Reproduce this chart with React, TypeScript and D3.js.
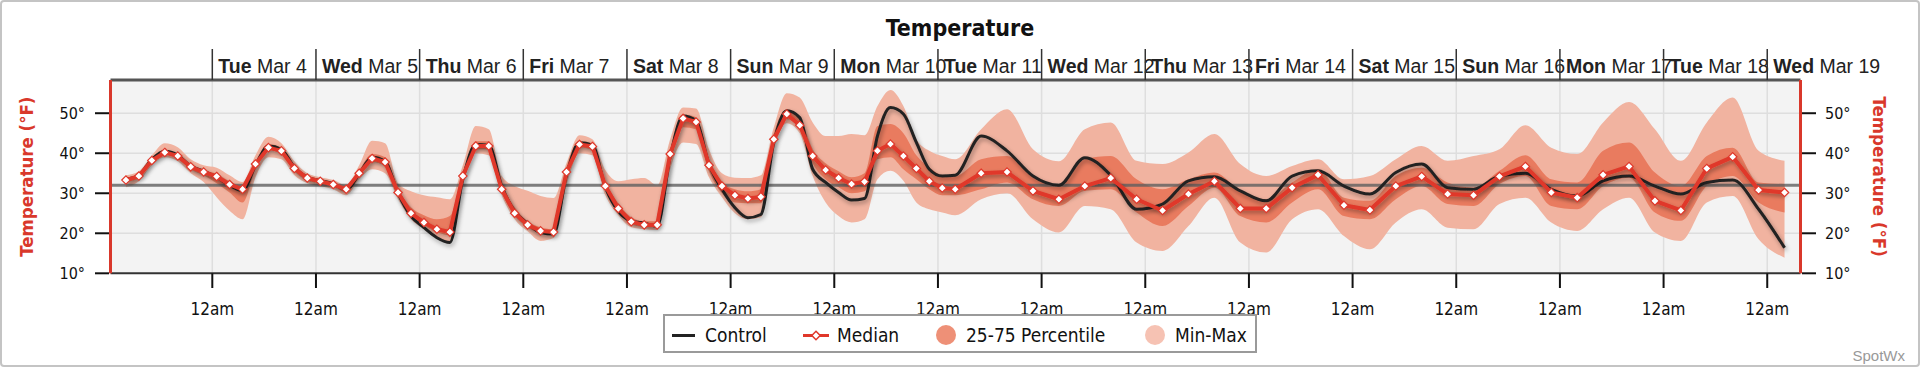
import * as d3 from "d3";

// forecast hours, counted from Mar 4 00:00
const HOURS = [
  -20, -17, -14, -11, -8, -5, -2, 1, 4, 7, 10, 13, 16, 19, 22, 25, 28, 31, 34, 37, 40,
  43, 46, 49, 52, 55, 58, 61, 64, 67, 70, 73, 76, 79, 82, 85, 88, 91, 94, 97, 100, 103,
  106, 109, 112, 115, 118, 121, 124, 127, 130, 133, 136, 139, 142, 145, 148, 151, 154,
  157, 160, 163, 166, 169, 172, 178, 184, 190, 196, 202, 208, 214, 220, 226, 232, 238,
  244, 250, 256, 262, 268, 274, 280, 286, 292, 298, 304, 310, 316, 322, 328, 334, 340,
  346, 352, 358, 364,
];

const MEDIAN = [
  33.3, 34.3, 38.2, 40.2, 39.3, 36.6, 35.3, 34.2, 32.2, 31.0, 37.3, 41.4, 40.6, 36.2, 33.8, 33.0, 32.2, 31.0, 35.0, 38.7, 37.8,
  30.2, 25.0, 22.7, 21.0, 20.3, 34.3, 41.8, 41.8, 31.0, 25.0, 22.1, 20.6, 20.3, 35.3, 42.2, 41.7, 31.8, 26.2, 22.9, 22.1, 22.1,
  39.8, 48.7, 47.8, 37.0, 31.8, 29.5, 28.7, 29.1, 43.5, 49.8, 47.0, 39.3, 35.8, 33.8, 32.3, 32.9, 40.6,
  42.3, 39.3, 36.2, 33.0, 31.3, 31.0, 35.0, 35.3, 30.6, 28.5, 31.8, 33.8, 28.5, 25.7, 29.8, 33.0, 26.2,
  26.2, 31.4, 34.6, 27.0, 25.8, 31.8, 34.2, 29.8, 29.5, 34.2, 36.7, 30.2, 28.9, 34.6, 36.7, 28.1, 25.7,
  36.2, 39.1, 30.8, 30.2,
];

const CONTROL = [
  33.5, 34.5, 38.5, 40.5, 39.5, 36.8, 35.5, 34.0, 32.0, 30.6, 37.0, 41.8, 41.0, 36.5, 34.0, 33.2, 32.4, 30.8, 34.8, 39.0, 38.0,
  30.0, 24.3, 21.4, 18.9, 17.7, 33.5, 42.2, 42.0, 31.8, 25.5, 22.5, 20.2, 19.8, 34.5, 42.6, 42.0, 31.5, 25.5, 23.1, 22.5, 21.8,
  39.0, 49.3, 48.1, 37.2, 31.0, 26.4, 23.9, 24.7, 42.7, 50.6, 48.9, 36.0, 32.7, 30.2, 28.3, 28.7, 44.3,
  51.4, 49.8, 42.7, 36.0, 34.3, 34.5, 44.3, 40.6, 34.3, 32.0, 38.9, 34.5, 26.0, 27.3, 33.1, 34.1, 30.6,
  28.1, 34.3, 35.6, 31.8, 29.8, 35.2, 37.3, 31.4, 31.0, 34.3, 35.0, 31.0, 29.3, 33.1, 34.3, 31.8, 29.8,
  32.7, 33.3, 26.0, 16.4,
];

const MIN = [
  31.5, 33.0, 37.0, 39.0, 38.0, 35.0, 32.8, 29.0, 25.6, 23.5, 34.0, 39.0, 38.5, 34.5, 32.5, 31.8, 31.0, 29.5, 33.5, 36.0, 35.0,
  28.5, 23.5, 21.0, 18.7, 17.5, 32.0, 40.0, 39.5, 29.5, 23.5, 20.5, 18.1, 18.8, 32.0, 40.0, 39.5, 29.5, 24.5, 21.5, 21.0, 20.8,
  36.0, 42.7, 42.3, 34.0, 29.0, 25.0, 23.5, 24.0, 41.0, 47.5, 45.0, 34.3, 27.7, 24.3, 22.7, 23.5, 33.5,
  35.6, 33.1, 27.7, 26.0, 25.2, 24.5, 28.5, 30.0, 23.5, 20.2, 26.8, 26.0, 17.7, 15.6, 21.8, 28.9, 17.7,
  15.2, 23.5, 26.0, 19.3, 16.0, 22.7, 26.0, 21.4, 21.0, 27.3, 28.9, 22.7, 20.6, 26.0, 28.9, 20.2, 18.1,
  27.7, 29.3, 18.5, 13.9,
];

const P25 = [
  32.8, 33.8, 37.7, 39.7, 38.7, 36.0, 34.5, 32.5, 30.2, 27.7, 36.0, 40.8, 39.8, 35.5, 33.2, 32.5, 31.6, 30.3, 34.3, 37.8, 36.8,
  29.5, 24.5, 22.0, 20.3, 19.5, 33.5, 41.0, 41.0, 30.3, 24.5, 21.5, 20.0, 19.6, 34.0, 41.5, 40.8, 31.0, 25.5, 22.3, 21.6, 21.5,
  38.5, 46.5, 46.0, 35.5, 30.0, 27.7, 27.5, 27.5, 42.5, 48.5, 46.5, 37.5, 33.5, 31.5, 30.0, 30.5, 38.5,
  39.0, 36.0, 33.5, 31.0, 29.5, 29.5, 31.0, 32.7, 28.5, 26.8, 30.6, 31.0, 25.2, 21.8, 26.8, 31.4, 24.3,
  22.7, 27.7, 31.0, 24.3, 23.5, 28.5, 31.8, 27.3, 26.8, 32.3, 34.3, 26.8, 26.0, 31.8, 33.9, 25.2, 23.1,
  31.8, 34.3, 27.7, 25.2,
];

const P75 = [
  33.8, 34.8, 38.7, 40.8, 39.8, 37.2, 35.8, 34.8, 33.0, 31.8, 38.0, 42.3, 41.3, 37.0, 34.4, 33.5, 32.8, 31.5, 35.8, 39.8, 39.0,
  31.0, 26.5, 24.5, 23.5, 24.3, 35.0, 43.0, 43.0, 32.3, 26.5, 23.0, 21.5, 21.0, 36.5, 43.0, 42.5, 32.8, 27.5, 24.0, 23.0, 23.0,
  40.8, 49.7, 49.0, 38.5, 33.0, 31.0, 30.5, 31.0, 45.0, 51.0, 48.9, 41.0, 37.5, 35.5, 34.0, 35.0, 46.8,
  47.3, 45.0, 39.5, 36.5, 34.5, 34.3, 38.5, 39.3, 34.3, 31.8, 38.5, 39.3, 33.5, 31.0, 33.5, 35.2, 30.6,
  28.5, 32.7, 36.0, 28.9, 28.1, 34.3, 36.4, 32.7, 31.4, 35.6, 39.5, 33.5, 32.7, 40.6, 42.7, 35.2, 31.8,
  39.3, 41.4, 32.7, 32.3,
];

const MAX = [
  34.5, 35.5, 39.5, 42.5, 41.5, 38.5, 37.0, 36.4, 34.5, 32.8, 39.5, 44.1, 42.5, 38.0, 35.0, 34.0, 33.3, 32.0, 37.0, 43.1, 42.5,
  32.5, 30.5, 29.5, 29.0, 28.5, 37.0, 46.8, 46.0, 34.3, 31.8, 30.6, 29.3, 28.8, 37.5, 44.5, 43.5, 35.8, 33.0, 33.5, 33.8, 32.0,
  43.5, 51.4, 51.2, 41.0, 35.0, 33.9, 33.8, 34.5, 46.5, 55.0, 53.9, 47.7, 44.3, 44.3, 44.8, 44.5, 51.8,
  55.8, 51.8, 43.5, 40.6, 39.3, 38.5, 46.0, 51.0, 41.0, 38.0, 46.0, 47.7, 38.1, 37.3, 40.2, 44.8, 37.3,
  34.3, 36.8, 38.5, 33.5, 34.3, 38.5, 41.8, 38.1, 39.3, 41.0, 47.0, 41.4, 39.8, 47.7, 52.8, 46.0, 38.1,
  47.7, 53.9, 40.6, 38.1,
];

const Y_TICKS = [10, 20, 30, 40, 50];
const FREEZING = 32;
const START = Date.UTC(2025, 2, 4);
const HOUR = 3600e3;

const W = 1920;
const H = 368;
const PL = 110.5;
const PR = 1800.5;
const PT = 80;
const PB = 273.3;

const RED = "#e0372a";
const AXIS_RED = "#d9382b";
const COND = "'DejaVu Sans Condensed', 'DejaVu Sans', sans-serif";
const ARIAL = "'Liberation Sans', Arial, sans-serif";

const App = () => {
  const times = HOURS.map((h) => new Date(START + h * HOUR));
  const x = d3
    .scaleUtc()
    .domain([new Date(START - 23.57 * HOUR), new Date(START + 367.7 * HOUR)])
    .range([PL, PR]);
  const y = d3.scaleLinear().domain([10, 58.3]).range([PB, PT]);

  const days = d3.utcDay.range(x.domain()[0], x.domain()[1]);
  const idx = d3.range(HOURS.length);

  const band = (lo: number[], hi: number[]) =>
    d3
      .area<number>()
      .x((i) => x(times[i]))
      .y0((i) => y(lo[i]))
      .y1((i) => y(hi[i]))
      .curve(d3.curveMonotoneX)(idx) || "";

  const controlLine =
    d3
      .line<number>()
      .x((i) => x(times[i]))
      .y((i) => y(CONTROL[i]))
      .curve(d3.curveMonotoneX)(idx) || "";

  const medianLine =
    d3
      .line<number>()
      .x((i) => x(times[i]))
      .y((i) => y(MEDIAN[i]))(idx) || "";

  const diamond = "M0,-4.2L4.2,0L0,4.2L-4.2,0Z";
  const fmtDay = d3.utcFormat("%a");
  const fmtDate = d3.utcFormat(" %b %-d");

  return (
    <div style={{ position: "absolute", left: 0, top: 0 }}>
      <svg width={W} height={H} style={{ display: "block", background: "#fff" }}>
        <defs>
          <clipPath id="plot">
            <rect x={PL} y={PT} width={PR - PL} height={PB - PT} />
          </clipPath>
          <filter id="shadow" x="-5%" y="-20%" width="110%" height="140%">
            <feDropShadow dx="1.5" dy="2.5" stdDeviation="2" floodColor="#000" floodOpacity="0.35" />
          </filter>
        </defs>

        <rect x={1} y={1} width={W - 2} height={H - 3} rx={3} fill="#fff" stroke="#c4c4c4" strokeWidth={2} />

        <text x={960} y={36} textAnchor="middle" fontFamily={COND} fontWeight="bold" fontSize={23} fill="#111">
          Temperature
        </text>

        {/* plot background and grid */}
        <rect x={PL} y={PT} width={PR - PL} height={PB - PT} fill="#f3f3f3" />
        {Y_TICKS.slice(1).map((t) => (
          <line key={t} x1={PL} x2={PR} y1={y(t)} y2={y(t)} stroke="#dedede" strokeWidth={1.5} />
        ))}
        {days.map((d) => (
          <line key={+d} x1={x(d)} x2={x(d)} y1={PT} y2={PB} stroke="#dedede" strokeWidth={1.5} />
        ))}

        <g clipPath="url(#plot)">
          <path d={band(MIN, MAX)} fill="#f1b3a0" />
          <path d={band(P25, P75)} fill="#e97b5f" />
          <line x1={PL} x2={PR} y1={y(FREEZING)} y2={y(FREEZING)} stroke="rgba(95,95,95,0.8)" strokeWidth={3} />
          <path d={controlLine} fill="none" stroke="#222" strokeWidth={3} filter="url(#shadow)" />
          <path d={medianLine} fill="none" stroke={RED} strokeWidth={4} strokeLinejoin="round" filter="url(#shadow)" />
          {idx.map((i) => (
            <path
              key={i}
              d={diamond}
              transform={`translate(${x(times[i])},${y(MEDIAN[i])})`}
              fill="#fff"
              stroke={RED}
              strokeWidth={1.2}
            />
          ))}
        </g>

        {/* top day axis */}
        <line x1={PL} x2={PR} y1={PT} y2={PT} stroke="#555" strokeWidth={3} />
        {days.map((d) => (
          <g key={+d}>
            <line x1={x(d)} x2={x(d)} y1={49} y2={PT} stroke="#333" strokeWidth={1.5} />
            <text x={x(d) + 6} y={72.5} fontFamily={ARIAL} fontSize={19.5} fill="#222">
              <tspan fontWeight="bold">{fmtDay(d)}</tspan>
              <tspan>{fmtDate(d)}</tspan>
            </text>
          </g>
        ))}

        {/* bottom axis */}
        <line x1={PL} x2={PR} y1={PB} y2={PB} stroke="#333" strokeWidth={2} />
        {days.map((d) => (
          <g key={+d}>
            <line x1={x(d)} x2={x(d)} y1={PB} y2={288} stroke="#111" strokeWidth={2} />
            <text x={x(d)} y={315} textAnchor="middle" fontFamily={COND} fontSize={17} fill="#111">
              12am
            </text>
          </g>
        ))}

        {/* y axes */}
        <line x1={PL} x2={PL} y1={PT} y2={PB} stroke={AXIS_RED} strokeWidth={3} />
        <line x1={PR} x2={PR} y1={PT} y2={PB} stroke={AXIS_RED} strokeWidth={3} />
        {Y_TICKS.map((t) => (
          <g key={t}>
            <line x1={95} x2={PL - 1.5} y1={y(t)} y2={y(t)} stroke="#111" strokeWidth={2} />
            <text x={85} y={y(t) + 6} textAnchor="end" fontFamily={COND} fontSize={16} fill="#111">
              {t}°
            </text>
            <line x1={PR + 1.5} x2={1816} y1={y(t)} y2={y(t)} stroke="#111" strokeWidth={2} />
            <text x={1825} y={y(t) + 6} fontFamily={COND} fontSize={16} fill="#111">
              {t}°
            </text>
          </g>
        ))}
        <text
          transform={`translate(33,${(PT + PB) / 2}) rotate(-90)`}
          textAnchor="middle"
          fontFamily={COND}
          fontWeight="bold"
          fontSize={18.5}
          fill={AXIS_RED}
        >
          Temperature (°F)
        </text>
        <text
          transform={`translate(1873,${(PT + PB) / 2}) rotate(90)`}
          textAnchor="middle"
          fontFamily={COND}
          fontWeight="bold"
          fontSize={18.5}
          fill={AXIS_RED}
        >
          Temperature (°F)
        </text>

        {/* legend */}
        <rect x={664} y={315} width={592} height={37} fill="#fff" stroke="#9a9a9a" strokeWidth={2} />
        <line x1={672} x2={695} y1={335.5} y2={335.5} stroke="#222" strokeWidth={3} />
        <text x={705} y={342} fontFamily={COND} fontSize={19} fill="#111">Control</text>
        <line x1={803} x2={829} y1={335.5} y2={335.5} stroke={RED} strokeWidth={3} />
        <path d={diamond} transform="translate(816,335.5)" fill="#fff" stroke={RED} strokeWidth={1.5} />
        <text x={837} y={342} fontFamily={COND} fontSize={19} fill="#111">Median</text>
        <circle cx={946} cy={335} r={10} fill="#ee9077" />
        <text x={966} y={342} fontFamily={COND} fontSize={19} fill="#111">25-75 Percentile</text>
        <circle cx={1155} cy={335} r={10} fill="#f6c2b3" />
        <text x={1175} y={342} fontFamily={COND} fontSize={19} fill="#111">Min-Max</text>

        <text x={1905} y={361} textAnchor="end" fontFamily={ARIAL} fontSize={15} fill="#999">
          SpotWx
        </text>
      </svg>
    </div>
  );
};

export default App;
